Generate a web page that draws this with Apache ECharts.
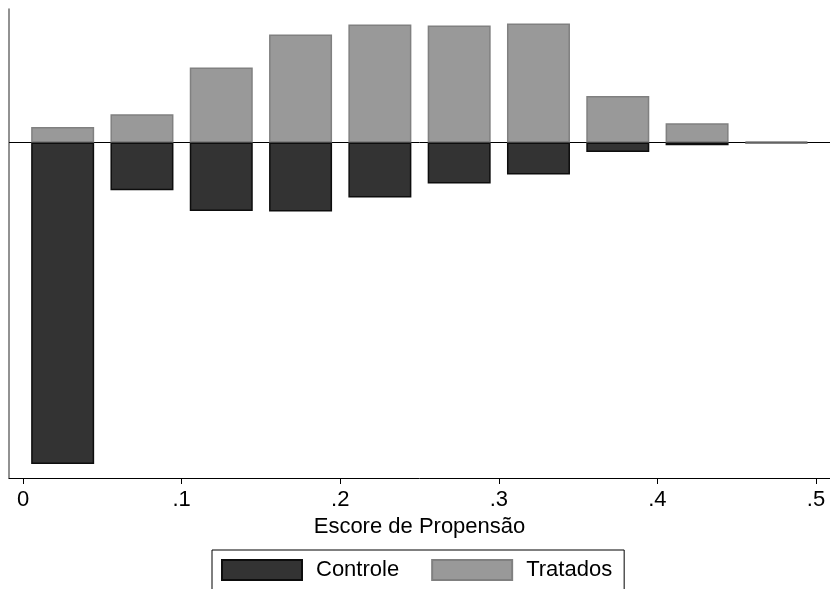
<!DOCTYPE html>
<html>
<head>
<meta charset="utf-8">
<script src="https://cdn.jsdelivr.net/npm/echarts@6/dist/echarts.min.js"></script>
<style>html,body{margin:0;padding:0;background:#fff}#c{width:830px;height:589px}</style>
</head>
<body>
<div id="c"></div>
<script>
// Bin centres (propensity score)
var bins = [0.025, 0.075, 0.125, 0.175, 0.225, 0.275, 0.325, 0.375, 0.425, 0.475];
// Tratados (positive side), arbitrary density units
var tratados = [15.5, 28.2, 75, 108, 118, 117, 119, 46.5, 19.3, 1];
// Controle (negative side)
var controle = [-321.5, -47.8, -68.5, -69, -55, -41, -32, -9.5, -2.7, -0.6];
// X tick values and labels
var xTicks = [0, 0.1, 0.2, 0.3, 0.4, 0.5];
var xTickLabels = ["0", ".1", ".2", ".3", ".4", ".5"];

var FONT = "Liberation Sans, Arial, sans-serif";
var chart = echarts.init(document.getElementById('c'), null, {renderer: 'canvas'});

function pairs(vals) { return bins.map(function (b, i) { return [b, vals[i]]; }); }

var option = {
  animation: false,
  backgroundColor: '#ffffff',
  grid: {left: 9, right: 0, top: 9, bottom: 111, containLabel: false},
  legend: {
    left: 212, top: 550,
    orient: 'horizontal',
    itemWidth: 80, itemHeight: 20, itemGap: 32,
    padding: [9, 12, 9, 9],
    borderColor: '#000', borderWidth: 1,
    textStyle: {fontFamily: FONT, fontSize: 22, color: '#000', padding: [0, 0, 0, 9]},
    data: [{name: 'Controle', icon: 'rect'}, {name: 'Tratados', icon: 'rect'}]
  },
  xAxis: {
    type: 'value',
    min: -0.00883, max: 0.5088,
    name: 'Escore de Propensão',
    nameLocation: 'middle', nameGap: 35,
    nameTextStyle: {fontFamily: FONT, fontSize: 22, color: '#000'},
    axisLine: {show: true, onZero: false, lineStyle: {color: '#000', width: 1}},
    axisTick: {show: true, length: 6, lineStyle: {color: '#000'}, customValues: xTicks},
    axisLabel: {
      show: true, margin: 11, fontFamily: FONT, fontSize: 22, color: '#000',
      customValues: xTicks,
      formatter: function (v) {
        var i = xTicks.findIndex(function (t) { return Math.abs(t - v) < 1e-9; });
        return i >= 0 ? xTickLabels[i] : '';
      }
    },
    splitLine: {show: false}
  },
  yAxis: {
    type: 'value',
    min: -335.5, max: 133.5,
    axisLine: {show: true, onZero: false, lineStyle: {color: '#6e6e6e', width: 1.5}},
    axisTick: {show: false},
    axisLabel: {show: false},
    splitLine: {show: false}
  },
  series: [
    {
      name: 'Controle', type: 'bar', stack: 's', barWidth: 63,
      itemStyle: {color: '#333333', borderColor: '#0d0d0d', borderWidth: 1.5},
      data: pairs(controle),
      markLine: {
        silent: true, symbol: ['none', 'none'], label: {show: false},
        lineStyle: {color: '#000', width: 1, type: 'solid'},
        data: [{yAxis: 0}],
        z: 1
      }
    },
    {
      name: 'Tratados', type: 'bar', stack: 's', barWidth: 63,
      itemStyle: {color: '#999999', borderColor: '#808080', borderWidth: 1.5},
      data: pairs(tratados)
    }
  ]
};
chart.setOption(option);
</script>
</body>
</html>
